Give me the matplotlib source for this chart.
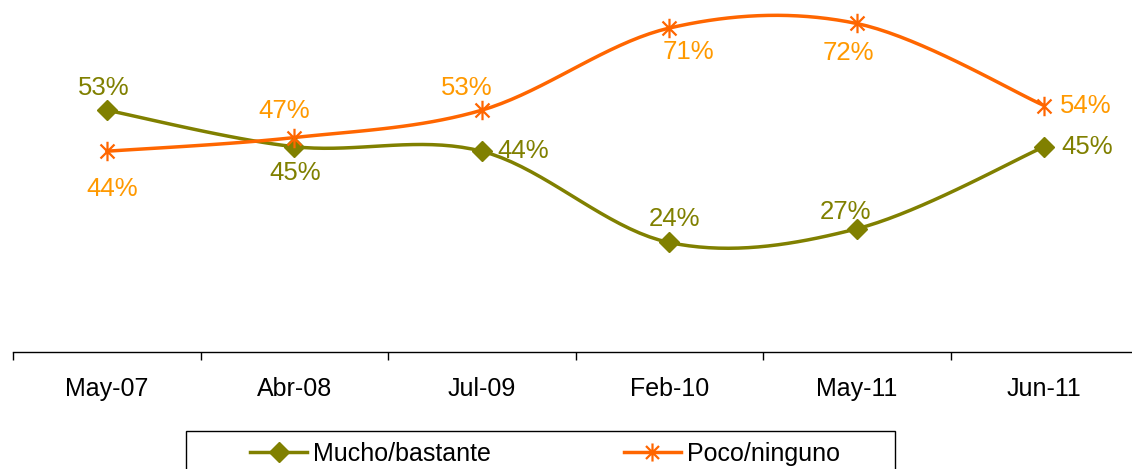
import numpy as np
import matplotlib
matplotlib.use('Agg')
import matplotlib.pyplot as plt
from matplotlib.path import Path
from matplotlib.lines import Line2D
from matplotlib.patches import Rectangle

plt.rcParams['font.family'] = ['Liberation Sans', 'DejaVu Sans']

categories = ['May-07', 'Abr-08', 'Jul-09', 'Feb-10', 'May-11', 'Jun-11']
mucho = [53, 45, 44, 24, 27, 45]
poco = [44, 47, 53, 71, 72, 54]

OLIVE = '#808000'
ORANGE = '#FF6600'
ORANGE_TXT = '#FF9900'

# label offsets in points (dx, dy) per point
mucho_off = [(-2, 16), (1, -19), (30, 0), (4, 17), (-8, 12), (31, 0)]
poco_off = [(4, -27), (-7, 19), (-11, 16), (14, -17), (-6, -21), (30, 0)]


def smooth(y, n=20):
    # Excel-style smoothed line: cubic Bezier between points, tangent = (next - prev)/6
    x = np.arange(len(y), dtype=float)
    y = np.asarray(y, dtype=float)
    px, py = [], []
    for i in range(len(y) - 1):
        i0 = max(i - 1, 0); i3 = min(i + 2, len(y) - 1)
        c1x = x[i] + (x[i + 1] - x[i0]) / 6; c1y = y[i] + (y[i + 1] - y[i0]) / 6
        c2x = x[i + 1] - (x[i3] - x[i]) / 6; c2y = y[i + 1] - (y[i3] - y[i]) / 6
        t = np.linspace(0, 1, n)
        bx = (1-t)**3*x[i] + 3*(1-t)**2*t*c1x + 3*(1-t)*t**2*c2x + t**3*x[i+1]
        by = (1-t)**3*y[i] + 3*(1-t)**2*t*c1y + 3*(1-t)*t**2*c2y + t**3*y[i+1]
        px.extend(bx); py.extend(by)
    return np.array(px), np.array(py)


star = Path([(0, -1), (0, 1), (-0.72, -0.72), (0.72, 0.72), (-0.72, 0.72), (0.72, -0.72)],
            [Path.MOVETO, Path.LINETO, Path.MOVETO, Path.LINETO, Path.MOVETO, Path.LINETO])

W, H = 1132, 469
fig = plt.figure(figsize=(W / 100, H / 100), dpi=100)
ax = fig.add_axes([13 / W, (H - 352) / H, 1125 / W, 352 / H])
ax.set_xlim(-0.5, 5.5)
ax.set_ylim(0, 352 / 4.5625)

x = np.arange(len(categories))
sx, sy = smooth(mucho)
ax.plot(sx, sy, color=OLIVE, lw=2.5, zorder=3, solid_capstyle='round')
ax.plot(x, mucho, ls='none', marker='D', ms=10.5, color=OLIVE, zorder=4)
sx, sy = smooth(poco)
ax.plot(sx, sy, color=ORANGE, lw=2.5, zorder=3, solid_capstyle='round')
ax.plot(x, poco, ls='none', marker=star, ms=14, mew=1.6, mfc='none', mec=ORANGE, zorder=4)

for i, v in enumerate(mucho):
    dx, dy = mucho_off[i]
    ax.annotate(f'{v}%', (i, v), xytext=(dx, dy), textcoords='offset points',
                ha='center', va='center', fontsize=18.5, color=OLIVE)
for i, v in enumerate(poco):
    dx, dy = poco_off[i]
    ax.annotate(f'{v}%', (i, v), xytext=(dx, dy), textcoords='offset points',
                ha='center', va='center', fontsize=18.5, color=ORANGE_TXT)

for s in ['top', 'right', 'left']:
    ax.spines[s].set_visible(False)
ax.spines['bottom'].set_color('black')
ax.spines['bottom'].set_linewidth(1.0)
ax.set_yticks([])
ax.set_xticks(np.arange(-0.5, 6.0, 1.0), minor=False)
ax.set_xticklabels([])
ax.tick_params(axis='x', which='major', direction='out', length=6, width=1, color='black')
ax.set_xticks(x, minor=True)
ax.set_xticklabels(categories, minor=True, fontsize=18)
ax.tick_params(axis='x', which='minor', length=0, pad=18)

# legend box (partly cut off at the bottom, as in the original)
fig.add_artist(Rectangle((186 / W, -0.05), (895 - 186) / W, (H - 431) / H + 0.05,
                         transform=fig.transFigure, facecolor='white', edgecolor='black',
                         lw=1.0, clip_on=False))
handles = [Line2D([0], [0], color=OLIVE, lw=2.5, marker='D', ms=10),
           Line2D([0], [0], color=ORANGE, lw=2.5, marker=star, ms=13, mew=1.6, mfc='none', mec=ORANGE)]
fig.legend(handles, ['Mucho/bastante', 'Poco/ninguno'], loc='center left',
           bbox_to_anchor=(250 / W, (H - 454) / H), ncol=2, frameon=False,
           fontsize=18, handlelength=2.28, handletextpad=0.25, columnspacing=5.3,
           borderaxespad=0, borderpad=0)

fig.savefig('out.png', dpi=100, facecolor='white')
